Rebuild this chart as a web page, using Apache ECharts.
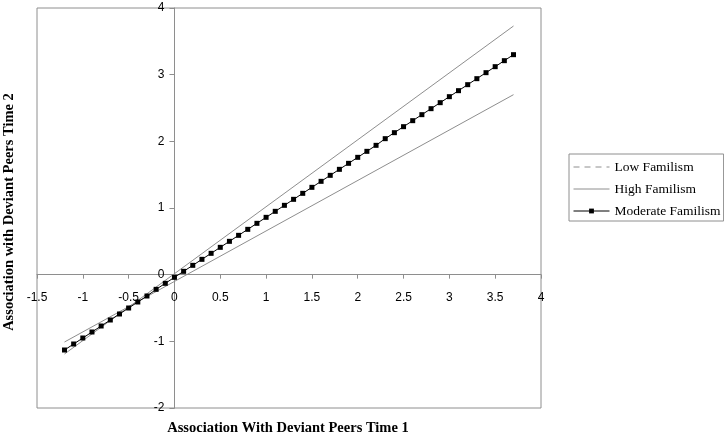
<!DOCTYPE html>
<html>
<head>
<meta charset="utf-8">
<script src="https://cdn.jsdelivr.net/npm/echarts@6/dist/echarts.min.js"></script>
<style>
html, body { margin: 0; padding: 0; background: #fff; }
#myChart { width: 724px; height: 438px; }
</style>
</head>
<body>
<div id="myChart"></div>
<script>
var myChart = echarts.init(document.getElementById('myChart'));

// x values of the plotted points (Association With Deviant Peers Time 1)
var modX = [-1.2, -1.1, -1.0, -0.9, -0.8, -0.7, -0.6, -0.5, -0.4, -0.3,
            -0.2, -0.1, 0.0, 0.1, 0.2, 0.3, 0.4, 0.5, 0.6, 0.7,
            0.8, 0.9, 1.0, 1.1, 1.2, 1.3, 1.4, 1.5, 1.6, 1.7,
            1.8, 1.9, 2.0, 2.1, 2.2, 2.3, 2.4, 2.5, 2.6, 2.7,
            2.8, 2.9, 3.0, 3.1, 3.2, 3.3, 3.4, 3.5, 3.6, 3.7];
var modY = [-1.13, -1.04, -0.95, -0.86, -0.77, -0.68, -0.59, -0.50, -0.41, -0.32,
            -0.22, -0.13, -0.04, 0.05, 0.14, 0.23, 0.32, 0.41, 0.50, 0.59,
            0.68, 0.77, 0.86, 0.95, 1.04, 1.13, 1.22, 1.31, 1.40, 1.49,
            1.58, 1.67, 1.76, 1.85, 1.94, 2.04, 2.13, 2.22, 2.31, 2.40,
            2.49, 2.58, 2.67, 2.76, 2.85, 2.94, 3.03, 3.12, 3.21, 3.30];

var lowX = [-1.2, 3.7];
var lowY = [-1.01, 2.70];
var highX = [-1.2, 3.7];
var highY = [-1.19, 3.73];

var seriesNames = ['Low Familism', 'High Familism', 'Moderate Familism'];

var xMin = -1.5, xMax = 4, yMin = -2, yMax = 4;
var gridL = 37, gridR = 183, gridT = 8, gridB = 30;
var plotW = 724 - gridL - gridR, plotH = 438 - gridT - gridB;

function pairs(xs, ys) {
    var out = [];
    for (var i = 0; i < xs.length; i++) {
        out.push([xs[i], ys[i]]);
    }
    return out;
}

// axes cross at zero: shift them in from the grid edges (labels follow)
var xAxisOffset = -plotH * (0 - yMin) / (yMax - yMin);
var yAxisOffset = -plotW * (0 - xMin) / (xMax - xMin);

var gray = '#8e8e8e';
var labelFont = {color: '#000', fontFamily: 'Liberation Sans, Arial, sans-serif', fontSize: 12};
var titleFont = 'bold 14.5px "Liberation Serif", "Times New Roman", serif';

myChart.setOption({
    animation: false,
    backgroundColor: '#fff',
    grid: {left: gridL, right: gridR, top: gridT, bottom: gridB, show: true, borderColor: gray, borderWidth: 1},
    legend: {
        orient: 'vertical',
        left: 569, top: 154,
        padding: [6, 3, 3, 4],
        borderColor: gray, borderWidth: 1,
        itemWidth: 36, itemHeight: 6, itemGap: 8,
        lineStyle: {width: 1},
        textStyle: {color: '#000', fontFamily: 'Liberation Serif, Times New Roman, serif', fontSize: 13.5},
        data: [
            {name: seriesNames[0], lineStyle: {type: [6, 5], width: 1}, itemStyle: {opacity: 0}},
            {name: seriesNames[1], itemStyle: {opacity: 0}},
            {name: seriesNames[2]}
        ]
    },
    xAxis: {
        type: 'value', min: xMin, max: xMax, interval: 0.5,
        offset: xAxisOffset,
        axisLine: {onZero: false, lineStyle: {color: gray, width: 1}},
        axisTick: {show: true, length: 4, lineStyle: {color: gray}},
        axisLabel: Object.assign({margin: 17}, labelFont),
        splitLine: {show: false}
    },
    yAxis: {
        type: 'value', min: yMin, max: yMax, interval: 1,
        offset: yAxisOffset,
        axisLine: {onZero: false, lineStyle: {color: gray, width: 1}},
        axisTick: {show: true, length: 5, lineStyle: {color: gray}},
        axisLabel: Object.assign({margin: 10}, labelFont),
        splitLine: {show: false}
    },
    graphic: [
        {type: 'text', x: 288, y: 428,
            style: {text: 'Association With Deviant Peers Time 1', fill: '#000', align: 'center', verticalAlign: 'middle', font: titleFont}},
        {type: 'text', rotation: Math.PI / 2, x: 9, y: 212,
            style: {text: 'Association with Deviant Peers Time 2', fill: '#000', align: 'center', verticalAlign: 'middle', font: titleFont}}
    ],
    series: [
        {name: seriesNames[0], type: 'line', data: pairs(lowX, lowY), symbol: 'none',
            lineStyle: {color: gray, width: 1}, itemStyle: {color: gray}},
        {name: seriesNames[1], type: 'line', data: pairs(highX, highY), symbol: 'none',
            lineStyle: {color: gray, width: 1}, itemStyle: {color: gray}},
        {name: seriesNames[2], type: 'line', data: pairs(modX, modY), symbol: 'rect', symbolSize: 5,
            lineStyle: {color: '#000', width: 1}, itemStyle: {color: '#000'}}
    ]
});
</script>
</body>
</html>
